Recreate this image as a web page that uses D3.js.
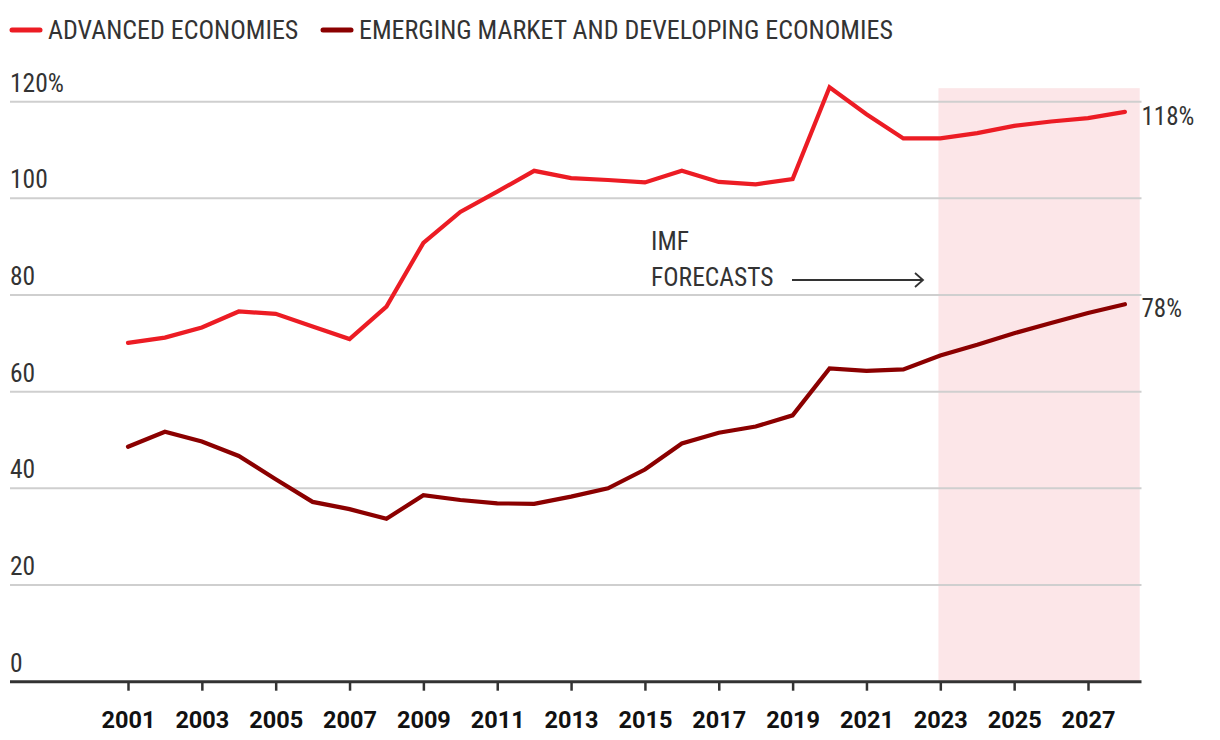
<!DOCTYPE html>
<html>
<head>
<meta charset="utf-8">
<script src="https://cdn.jsdelivr.net/npm/d3@7"></script>
<style>
  html, body { margin: 0; padding: 0; background: #fff; }
  svg { display: block; }
  .narrow { font-family: "Liberation Sans Narrow", "Arial Narrow", "Roboto Condensed", sans-serif; fill: #333; }
  .xlab { font-family: Roboto, "Liberation Sans", sans-serif; font-weight: 700; fill: #111; }
</style>
</head>
<body>
<svg id="chart" width="1220" height="740"></svg>
<script>
const years = [2001,2002,2003,2004,2005,2006,2007,2008,2009,2010,2011,2012,2013,2014,2015,2016,2017,2018,2019,2020,2021,2022,2023,2024,2025,2026,2027,2028];
const advanced = [70.1,71.2,73.3,76.6,76.1,73.5,70.9,77.6,90.8,97.2,101.4,105.7,104.2,103.8,103.3,105.7,103.4,102.9,104.0,123.0,117.4,112.4,112.4,113.5,115.0,115.9,116.6,117.9];
const emerging = [48.6,51.7,49.7,46.7,41.9,37.2,35.7,33.7,38.6,37.6,36.9,36.8,38.3,40.0,43.9,49.3,51.5,52.8,55.1,64.8,64.3,64.6,67.5,69.7,72.1,74.2,76.3,78.1];
const xTickYears = [2001,2003,2005,2007,2009,2011,2013,2015,2017,2019,2021,2023,2025,2027];
const yTicks = [0,20,40,60,80,100,120];
const yTickLabels = ["0","20","40","60","80","100","120%"];
const seriesNames = ["ADVANCED ECONOMIES","EMERGING MARKET AND DEVELOPING ECONOMIES"];
const endLabels = ["118%","78%"];
const forecastStart = 2022.95, forecastEnd = 2028.4, forecastTop = 122.8;

const colors = ["#ec1c24", "#8b0000"];
const svg = d3.select("#chart");

const x = d3.scaleLinear().domain([2001, 2027]).range([128, 1088]);
const y = d3.scaleLinear().domain([0, 120]).range([681.7, 101.7]);
const left = 10, right = 1141.5;

// forecast band
svg.append("rect")
  .attr("x", x(forecastStart)).attr("y", y(forecastTop))
  .attr("width", x(forecastEnd) - x(forecastStart))
  .attr("height", y(0) - y(forecastTop))
  .attr("fill", "#fce6e8");

// gridlines
const grid = svg.append("g");
grid.selectAll("line").data(yTicks.filter(d => d > 0)).join("line")
  .attr("x1", left).attr("x2", right)
  .attr("y1", d => y(d)).attr("y2", d => y(d))
  .attr("stroke", "#cfcfcf").attr("stroke-width", 2);

// y labels
svg.append("g").selectAll("text").data(yTicks).join("text")
  .attr("class", "narrow")
  .attr("x", left).attr("y", d => y(d) - 10)
  .attr("font-size", 25.5)
  .text((d, i) => yTickLabels[i]);

// x axis
const xAxis = d3.axisBottom(x).tickValues(xTickYears).tickFormat(d3.format("d")).tickSize(9).tickSizeOuter(0);
const gx = svg.append("g").attr("transform", `translate(0,${y(0)})`).call(xAxis);
gx.select(".domain").remove();
gx.selectAll(".tick line").attr("stroke", "#333").attr("stroke-width", 2.5);
gx.selectAll(".tick text").attr("class", "xlab").attr("font-size", 23.5).attr("dy", null).attr("y", 46);
svg.append("line").attr("x1", left).attr("x2", right).attr("y1", y(0)).attr("y2", y(0))
  .attr("stroke", "#333").attr("stroke-width", 3);

// lines
const line = d3.line().x((d, i) => x(years[i])).y(d => y(d));
[advanced, emerging].forEach((s, k) => {
  svg.append("path").datum(s).attr("d", line)
    .attr("fill", "none").attr("stroke", colors[k]).attr("stroke-width", 4.2)
    .attr("stroke-linejoin", "miter").attr("stroke-linecap", "round");
  svg.append("text").attr("class", "narrow").attr("font-size", 25)
    .attr("x", right).attr("y", y(s[s.length - 1]) + 13).text(endLabels[k]);
});

// annotation
const ann = svg.append("g");
ann.append("text").attr("class", "narrow").attr("font-size", 25.5).attr("x", 651).attr("y", 250).text("IMF");
ann.append("text").attr("class", "narrow").attr("font-size", 25.5).attr("x", 651).attr("y", 286).text("FORECASTS");
ann.append("line").attr("x1", 792).attr("x2", 923).attr("y1", 280).attr("y2", 280).attr("stroke", "#333").attr("stroke-width", 1.8);
ann.append("path").attr("d", "M915,273 L923,280 L915,287").attr("fill", "none").attr("stroke", "#333").attr("stroke-width", 1.8);

// legend
const legX = [10, 321];
const leg = svg.append("g");
seriesNames.forEach((n, k) => {
  leg.append("line").attr("x1", legX[k] + 2).attr("x2", legX[k] + 30).attr("y1", 30).attr("y2", 30)
    .attr("stroke", colors[k]).attr("stroke-width", 5).attr("stroke-linecap", "round");
  leg.append("text").attr("class", "narrow").attr("font-size", 26).attr("x", legX[k] + 38).attr("y", 39).text(n);
});
</script>
</body>
</html>
